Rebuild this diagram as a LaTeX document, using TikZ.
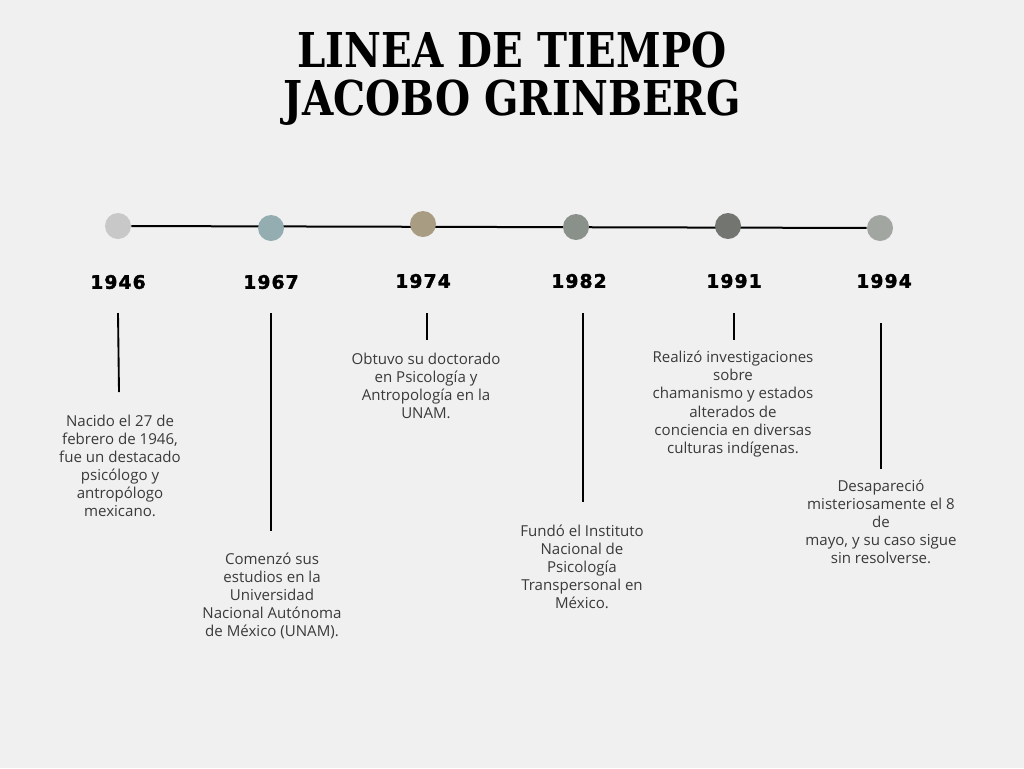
\documentclass[tikz,border=0pt]{standalone}
\usepackage{fontspec}
\setmainfont{Open Sans}
\newfontfamily\titlefont{DejaVu Serif}
\newfontfamily\yearfont[LetterSpace=6,FakeBold=2]{DejaVu Sans}
\usetikzlibrary{positioning,backgrounds}
\definecolor{paper}{HTML}{F0F0F0}
\definecolor{ink}{HTML}{3A3A3A}
\definecolor{c46}{HTML}{C8C8C8}
\definecolor{c67}{HTML}{94ADB0}
\definecolor{c74}{HTML}{A89D82}
\definecolor{c82}{HTML}{8A908A}
\definecolor{c91}{HTML}{737670}
\definecolor{c94}{HTML}{A2A6A0}
\begin{document}
\begin{tikzpicture}[x=0.75pt,y=-0.75pt,dot/.style={circle,minimum size=19.5pt,inner sep=0pt},yr/.style={font=\yearfont\bfseries\fontsize{14}{16}\selectfont},info/.style={align=center,text=ink,font=\fontsize{11.3}{13.6}\selectfont},stub/.style={line width=1.4pt}]
\useasboundingbox (0,0) rectangle (1024,768);
\node[font=\titlefont\bfseries\fontsize{36}{32}\selectfont] (title) at (512,80) {\scalebox{0.84}[1]{\begin{tabular}{@{}c@{}}LINEA DE TIEMPO\\JACOBO GRINBERG\end{tabular}}};
% puntos
\node[dot,fill=c46] (d1) at (118,226) {};
\node[dot,fill=c67] (d2) at (271,228) {};
\node[dot,fill=c74] (d3) at (423,224) {};
\node[dot,fill=c82] (d4) at (576,227) {};
\node[dot,fill=c91] (d5) at (728,226) {};
\node[dot,fill=c94] (d6) at (880,228) {};
\begin{scope}[on background layer]
\fill[paper] (0,0) rectangle (1024,768);
\draw[line width=1.5pt] (d1) -- (d6);
\end{scope}
% años
\node[yr] (y1) at (118,282) {1946};
\node[yr] (y2) at (271,282) {1967};
\node[yr] (y3) at (423,281) {1974};
\node[yr] (y4) at (579,281) {1982};
\node[yr] (y5) at (734,281) {1991};
\node[yr] (y6) at (884,281) {1994};
% textos
\node[info] (t1) at (120,466) {Nacido el 27 de\\febrero de 1946,\\fue un destacado\\psicólogo y\\antropólogo\\mexicano.};
\node[info] (t2) at (272,596) {Comenzó sus\\estudios en la\\Universidad\\Nacional Autónoma\\de México (UNAM).};
\node[info] (t3) at (426,386) {Obtuvo su doctorado\\en Psicología y\\Antropología en la\\UNAM.};
\node[info] (t4) at (582,567) {Fundó el Instituto\\Nacional de\\Psicología\\Transpersonal en\\México.};
\node[info] (t5) at (733,404) {Realizó investigaciones\\sobre\\chamanismo y estados\\alterados de\\conciencia en diversas\\culturas indígenas.};
\node[info] (t6) at (881,522) {Desapareció\\misteriosamente el 8\\de\\mayo, y su caso sigue\\sin resolverse.};
% trazos verticales
\coordinate (s1a) at (118,313); \coordinate (s1b) at (119,392);
\coordinate (s2a) at (271,313); \coordinate (s2b) at (271,531);
\coordinate (s3a) at (427,313); \coordinate (s3b) at (427,340);
\coordinate (s4a) at (583,313); \coordinate (s4b) at (583,502);
\coordinate (s5a) at (734,313); \coordinate (s5b) at (734,340);
\coordinate (s6a) at (881,323); \coordinate (s6b) at (881,469);
\foreach \s in {1,...,6}{\draw[stub] (s\s a) -- (s\s b);}
\end{tikzpicture}
\end{document}
